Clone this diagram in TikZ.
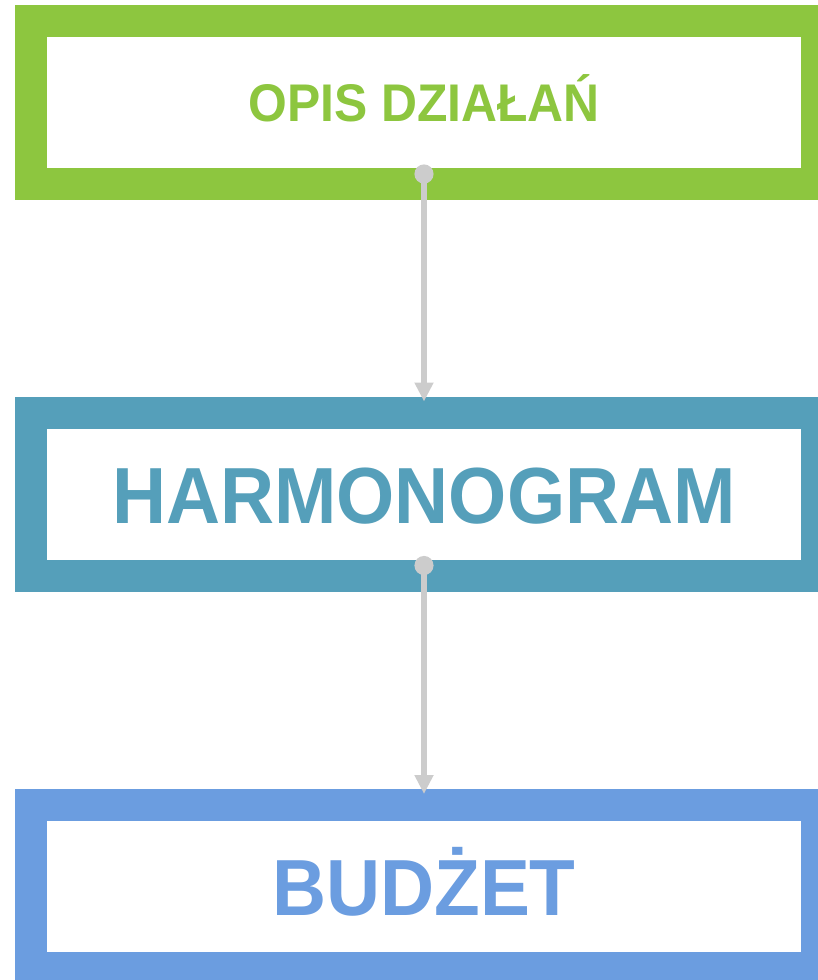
\documentclass[tikz,border=0pt]{standalone}
\usepackage{fontspec}
\setmainfont{Liberation Sans}[FakeStretch=0.94]
\usetikzlibrary{arrows.meta}
\definecolor{cgreen}{RGB}{141,198,63}
\definecolor{cteal}{RGB}{85,159,186}
\definecolor{cblue}{RGB}{107,157,224}
\definecolor{cgrey}{RGB}{204,204,204}
\tikzset{
  framebox/.style={draw=#1, line width=32pt, fill=white, minimum width=786pt, minimum height=163pt, outer sep=0pt, inner sep=0pt},
  bigtext/.style={text=#1, font=\bfseries\fontsize{79.6}{80}\selectfont, text height=57pt, text depth=0pt, inner sep=0pt},
  smalltext/.style={text=#1, font=\bfseries\fontsize{53}{54}\selectfont, text height=38pt, text depth=0pt, inner sep=0pt},
  link/.style={draw=cgrey, line width=6pt, {Circle[length=19pt]}-{Triangle[length=19pt,width=18pt]}}
}
\begin{document}
\begin{tikzpicture}[x=1pt,y=-1pt]
\useasboundingbox (0,0) rectangle (818,980);
\clip (0,0) rectangle (818,980);
\fill[white] (0,0) rectangle (818,980);
\node[framebox=cgreen] (b1) at (424,102.5) {};
\node[framebox=cteal] (b2) at (424,494) {};
\node[framebox=cblue] (b3) at (424,886.5) {};
\node[smalltext=cgreen] (t1) at (424,102.5) {OPIS DZIAŁAŃ};
\node[bigtext=cteal] (t2) at (424,494.5) {HARMONOGRAM};
\node[bigtext=cblue] (t3) at (424,886.5) {BUDŻET};
\draw[link] ([yshift=19.5pt]b1.south) -- ([yshift=11pt]b2.north);
\draw[link] ([yshift=19.5pt]b2.south) -- ([yshift=11pt]b3.north);
\end{tikzpicture}
\end{document}
